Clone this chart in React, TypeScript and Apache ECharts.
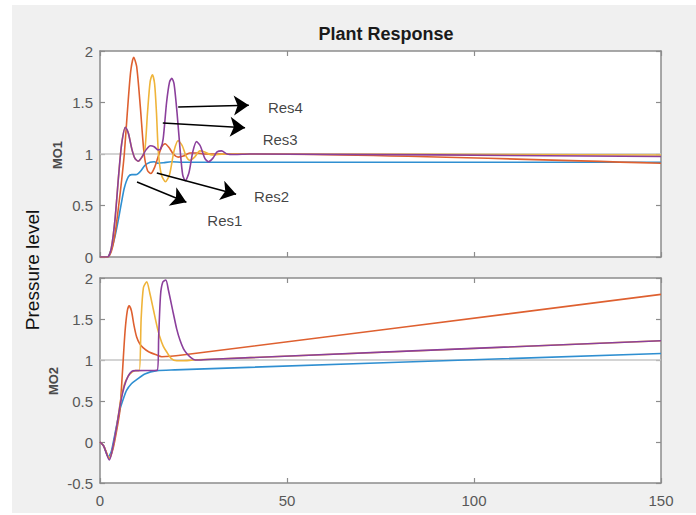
import React, { useEffect, useRef } from 'react';
import * as echarts from 'echarts';

// ---- axis ranges / ticks ----
const X_MIN = 0;
const X_MAX = 150;
const X_STEP = 50;
const MO1_MIN = 0;
const MO1_MAX = 2;
const MO2_MIN = -0.5;
const MO2_MAX = 2;
const Y_STEP = 0.5;
const REF_LEVEL = 1;

const seriesNames = ['Res1', 'Res2', 'Res3', 'Res4'];

// ---- MO1 (top) responses: [time, level] ----
const mo1Res1 = [
  [0, 0], [2, 0], [3, 0.07], [3.6, 0.14], [4.3, 0.25], [4.9, 0.36], [5.7, 0.52], [6.5, 0.67],
  [7.6, 0.78], [8.5, 0.8], [9.5, 0.8], [10.2, 0.81], [11, 0.84], [12, 0.89], [13.4, 0.92],
  [14.5, 0.925], [15.5, 0.91], [17, 0.915], [19, 0.925], [22, 0.92], [30, 0.92], [150, 0.92],
];
const mo1Res2 = [
  [0, 0], [2, 0], [3, 0.05], [4, 0.22], [5, 0.5], [5.8, 0.75], [6.5, 1.0], [7.3, 1.4], [8.2, 1.8],
  [9, 1.94], [9.8, 1.85], [10.8, 1.45], [11.8, 1.0], [12.7, 0.84], [13.6, 0.81], [14.6, 0.87],
  [15.6, 0.98], [16.5, 1.07], [17.4, 1.1], [18.5, 1.06], [19.6, 1.0], [20.9, 0.97], [22.3, 0.98],
  [24, 1.01], [26, 1.01], [28, 1.0], [42, 1.0], [150, 0.91],
];
const mo1Res3 = [
  [0, 0], [2, 0], [3, 0.08], [4, 0.36], [5, 0.8], [5.8, 1.1], [6.8, 1.26], [7.6, 1.2], [8.5, 1.05],
  [9.3, 0.96], [10.2, 0.93], [11.2, 0.97], [12, 1.04], [12.7, 1.4], [13.4, 1.7],
  [14, 1.77], [14.6, 1.68], [15.1, 1.4], [15.6, 1.02], [16.4, 0.8], [17.5, 0.73], [18.6, 0.8],
  [19.8, 1.03], [20.9, 1.13], [22, 1.08], [23, 0.98], [24, 0.94], [25.3, 0.97], [26.7, 1.03],
  [28, 1.02], [30, 0.99], [33, 1.0], [150, 0.99],
];
const mo1Res4 = [
  [0, 0], [2, 0], [3, 0.08], [4, 0.36], [5, 0.8], [5.8, 1.1], [6.8, 1.26], [7.6, 1.2], [8.5, 1.05],
  [9.3, 0.96], [10.2, 0.93], [11.2, 0.97], [12.3, 1.04], [13.5, 1.08], [14.5, 1.07], [15.5, 1.04],
  [16.2, 1.05], [16.9, 1.15], [17.8, 1.5], [18.6, 1.7], [19.2, 1.735], [19.8, 1.68], [20.6, 1.4],
  [21.4, 1.05], [22.1, 0.8], [22.8, 0.74], [23.8, 0.82], [24.8, 1.02], [25.8, 1.12], [26.8, 1.08],
  [28, 0.96], [29, 0.925], [30.2, 0.96], [31.3, 1.02], [32.5, 1.03], [34, 1.0], [36, 0.995],
  [40, 1.0], [150, 0.975],
];

// ---- MO2 (bottom) responses ----
const mo2Res1 = [
  [0, 0], [1, -0.05], [2.2, -0.18], [3, -0.12], [4, 0.1], [5.3, 0.39], [6.2, 0.52], [7.1, 0.63],
  [8.4, 0.71], [9.8, 0.76], [12, 0.83], [15.2, 0.87], [20, 0.88], [150, 1.08],
];
const mo2Res2 = [
  [0, 0], [1, -0.05], [2.5, -0.2], [3.5, -0.08], [4.5, 0.15], [5.3, 0.38], [6, 0.85], [6.7, 1.35],
  [7.3, 1.6], [7.8, 1.66], [8.4, 1.6], [9.1, 1.42], [9.8, 1.28], [10.6, 1.2], [11.5, 1.15],
  [13, 1.1], [15.2, 1.06], [16.5, 1.04], [22, 1.06], [150, 1.8],
];
const mo2Res3 = [
  [0, 0], [1, -0.05], [2.5, -0.2], [3.5, -0.06], [4.5, 0.2], [5.5, 0.5], [6.5, 0.7], [7.5, 0.8],
  [8.5, 0.85], [9.5, 0.87], [10.5, 0.87], [11, 1.5], [11.6, 1.88], [12.5, 1.955], [13.3, 1.82],
  [14.3, 1.61], [15.2, 1.42], [16, 1.28], [16.9, 1.17], [17.8, 1.1], [19, 1.02], [20.5, 0.99],
  [22, 0.99], [25, 1.0], [30, 1.01], [150, 1.235],
];
const mo2Res4 = [
  [0, 0], [1, -0.05], [2.5, -0.22], [3.5, -0.05], [4.5, 0.2], [5.5, 0.48], [6.5, 0.68], [7.5, 0.8],
  [8.5, 0.86], [9.5, 0.87], [15.3, 0.875], [15.7, 1.3], [16.2, 1.8], [16.8, 1.95], [17.6, 1.975],
  [18.3, 1.85], [19.6, 1.57], [20.5, 1.38], [21.4, 1.24], [22.3, 1.14], [23.2, 1.08], [24.3, 1.03],
  [25.5, 1.0], [27, 1.0], [30, 1.01], [150, 1.235],
];

// ---- annotations on MO1 (data coordinates) ----
const arrowLabels = ['Res4', 'Res3', 'Res2', 'Res1'];
const arrowTails = [[20.9, 1.456], [16.8, 1.3], [15.2, 0.816], [9.9, 0.728]];
const arrowHeads = [[39.8, 1.474], [38.8, 1.256], [36.4, 0.61], [23.1, 0.531]];
const labelAnchors = [[44.9, 1.456], [43.5, 1.136], [41.2, 0.585], [28.7, 0.359]];

const FONT = '"Liberation Sans", Arial, Helvetica, sans-serif';
const AXIS_COLOR = '#8c8c8c';
const LABEL_COLOR = '#585858';
const COLORS = ['#2f8fd1', '#de6030', '#efb43a', '#8b3f9c'];

export default function App() {
  const ref = useRef<HTMLDivElement>(null);

  useEffect(() => {
    if (!ref.current) return;
    const chart = echarts.init(ref.current, null, { renderer: 'svg' });

    const axisLine = { show: true, onZero: false, lineStyle: { color: AXIS_COLOR, width: 1.5 } };
    const axisTick = { show: true, inside: true, length: 5, lineStyle: { color: AXIS_COLOR, width: 1.2 } };
    const labelStyle = { fontSize: 15, color: LABEL_COLOR, fontFamily: FONT };

    const mkX = (gridIndex: number, position: string, showLabel: boolean) => ({
      type: 'value', gridIndex, position, min: X_MIN, max: X_MAX, interval: X_STEP,
      axisLine, axisTick, splitLine: { show: false },
      axisLabel: { show: showLabel, margin: 10, ...labelStyle },
    });
    const mkY = (gridIndex: number, position: string, min: number, max: number, showLabel: boolean) => ({
      type: 'value', gridIndex, position, min, max, interval: Y_STEP,
      axisLine, axisTick, splitLine: { show: false },
      axisLabel: { show: showLabel, margin: 7, ...labelStyle },
    });

    const lineSeries = (data: number[][], i: number, axisIdx: number) => ({
      type: 'line', name: seriesNames[i], xAxisIndex: axisIdx, yAxisIndex: axisIdx,
      data, symbol: 'none', showSymbol: false, smooth: 0.25,
      lineStyle: { color: COLORS[i], width: 1.6 }, itemStyle: { color: COLORS[i] },
      z: 3 + i, silent: true,
    });
    const refSeries = (axisIdx: number) => ({
      type: 'line', xAxisIndex: axisIdx, yAxisIndex: axisIdx,
      data: [[X_MIN, REF_LEVEL], [X_MAX, REF_LEVEL]], symbol: 'none',
      lineStyle: { color: '#c6c6c6', width: 1.5 }, z: 2, silent: true,
    });

    const option = {
      animation: false,
      backgroundColor: '#ffffff',
      textStyle: { fontFamily: FONT },
      title: {
        text: 'Plant Response', left: 381, top: 20, textAlign: 'center',
        textStyle: { fontSize: 18, fontWeight: 'bold', color: '#1a1a1a', fontFamily: FONT },
      },
      graphic: [
        { type: 'rect', z: -10, shape: { x: 12, y: 5, width: 684, height: 508 }, style: { fill: '#f0f0f0' } },
        {
          type: 'text', x: 57, y: 155, rotation: Math.PI / 2,
          style: { text: 'MO1', fontSize: 13, fontWeight: 'bold', fill: '#4a4a4a', fontFamily: FONT, align: 'center', verticalAlign: 'middle' },
        },
        {
          type: 'text', x: 53, y: 381, rotation: Math.PI / 2,
          style: { text: 'MO2', fontSize: 13, fontWeight: 'bold', fill: '#4a4a4a', fontFamily: FONT, align: 'center', verticalAlign: 'middle' },
        },
        {
          type: 'text', x: 32, y: 270, rotation: Math.PI / 2,
          style: { text: 'Pressure level', fontSize: 19, fill: '#111111', fontFamily: FONT, align: 'center', verticalAlign: 'middle' },
        },
      ],
      grid: [
        { left: 100, top: 51, width: 561, height: 206, show: true, backgroundColor: '#ffffff', borderWidth: 0 },
        { left: 100, top: 278, width: 561, height: 205, show: true, backgroundColor: '#ffffff', borderWidth: 0 },
      ],
      xAxis: [mkX(0, 'bottom', false), mkX(1, 'bottom', true), mkX(0, 'top', false), mkX(1, 'top', false)],
      yAxis: [
        mkY(0, 'left', MO1_MIN, MO1_MAX, true), mkY(1, 'left', MO2_MIN, MO2_MAX, true),
        mkY(0, 'right', MO1_MIN, MO1_MAX, false), mkY(1, 'right', MO2_MIN, MO2_MAX, false),
      ],
      series: [
        refSeries(0), refSeries(1),
        lineSeries(mo1Res1, 0, 0), lineSeries(mo1Res2, 1, 0), lineSeries(mo1Res3, 2, 0), lineSeries(mo1Res4, 3, 0),
        lineSeries(mo2Res1, 0, 1), lineSeries(mo2Res2, 1, 1), lineSeries(mo2Res3, 2, 1), lineSeries(mo2Res4, 3, 1),
        {
          type: 'lines', coordinateSystem: 'cartesian2d', xAxisIndex: 0, yAxisIndex: 0,
          data: arrowTails.map((t, i) => ({ coords: [t, arrowHeads[i]] })),
          symbol: ['none', 'arrow'], symbolSize: [10, 15],
          lineStyle: { color: '#000000', width: 1.5, opacity: 1 }, z: 10, silent: true,
        },
        {
          type: 'scatter', xAxisIndex: 0, yAxisIndex: 0, symbolSize: 0, z: 10, silent: true,
          data: labelAnchors.map((p, i) => ({ name: arrowLabels[i], value: p })),
          itemStyle: { color: 'transparent' },
          label: { show: true, position: 'right', distance: 0, formatter: '{b}', fontSize: 15, color: '#111111', fontFamily: FONT },
        },
      ],
    };

    chart.setOption(option as any);
    return () => chart.dispose();
  }, []);

  return <div ref={ref} style={{ position: 'absolute', left: 0, top: 0, width: 696, height: 515 }} />;
}
